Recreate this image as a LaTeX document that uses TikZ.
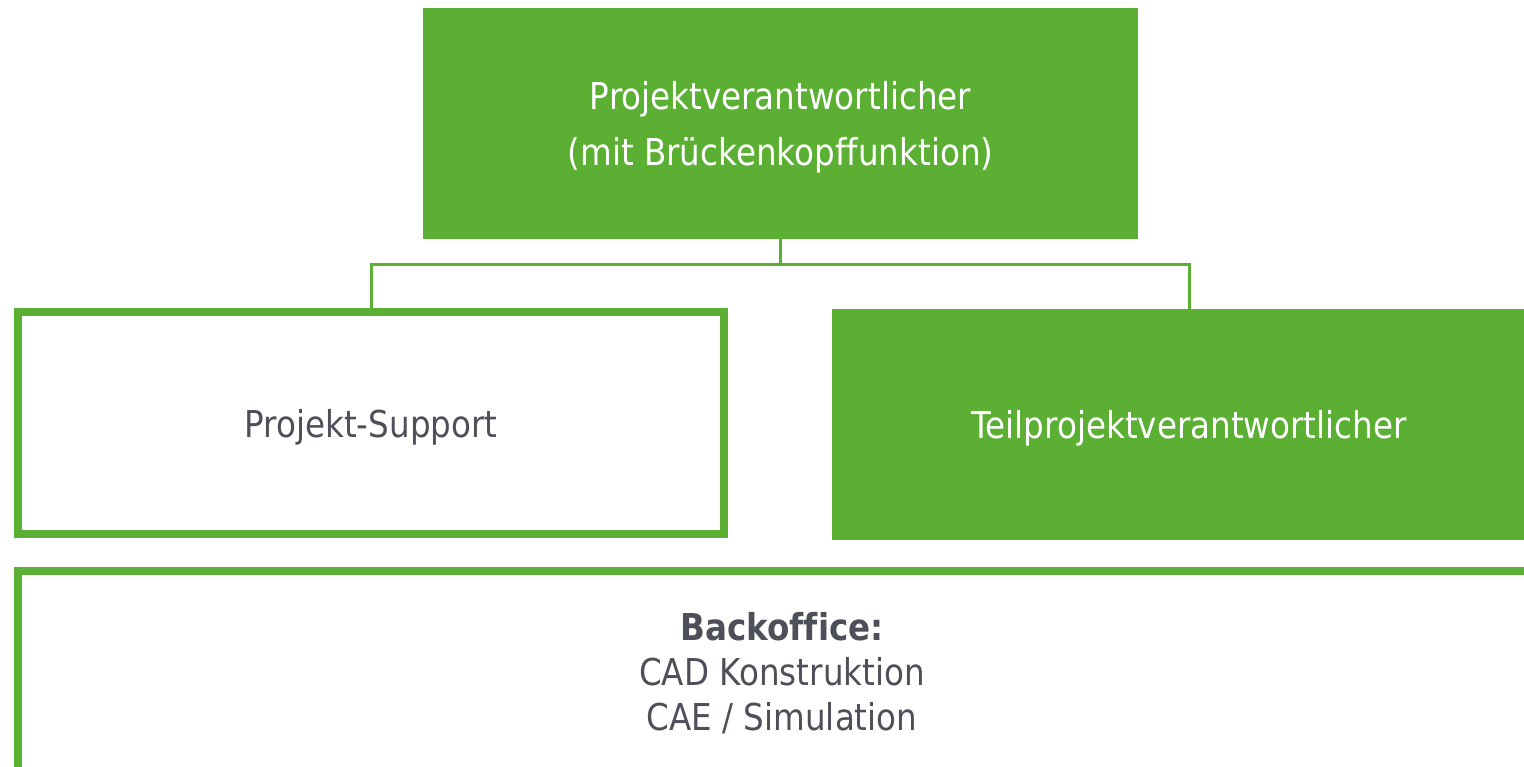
\documentclass[tikz,border=0pt]{standalone}
\usepackage{fontspec}
\setmainfont[FakeStretch=0.88, Ligatures=NoCommon]{DejaVu Sans}
\usetikzlibrary{positioning}

\definecolor{boxgreen}{HTML}{5BB033}
\definecolor{textgray}{HTML}{4D5058}

\newcommand\lowstrut{\rule{0pt}{36pt}} % pushes a line down a little

\tikzset{
    greenbox/.style={fill=boxgreen, text=white, align=center, inner sep=0pt},
    framebox/.style={draw=boxgreen, line width=8pt, text=textgray, align=center, inner sep=0pt},
    branch/.style={draw=boxgreen, line width=3pt}
}

\begin{document}
\begin{tikzpicture}[x=1pt, y=-1pt]
    % Define box size
    \def\boxwidth{714pt}
    \def\boxheight{231pt}

    \useasboundingbox (0,0) rectangle (1524,767);
    \fontsize{37}{45}\selectfont

    % Top box
    \node[greenbox, minimum width=715pt, minimum height=\boxheight] (lead) at (780.5,123.5)
        {\lowstrut Projektverantwortlicher\\[11pt](mit Brückenkopffunktion)};

    % Second row
    \node[framebox, minimum width=706pt, minimum height=222pt] (support) at (371,423) {\lowstrut Projekt-Support};
    \node[greenbox, minimum width=\boxwidth, minimum height=\boxheight] (subleader) at (1189,424.5)
        {\lowstrut Teilprojektverantwortlicher};

    % Bottom box (runs off the page)
    \node[framebox, minimum width=1528pt, minimum height=205pt] (backoffice) at (782,673)
        {\textbf{Backoffice:}\\CAD Konstruktion\\CAE / Simulation};

    % Connectors
    \draw[branch] (lead.south) -- ++(0,25) coordinate (fork);
    \draw[branch] (fork) -| (support.north);
    \draw[branch] (fork) -| (subleader.north);

\end{tikzpicture}
\end{document}
